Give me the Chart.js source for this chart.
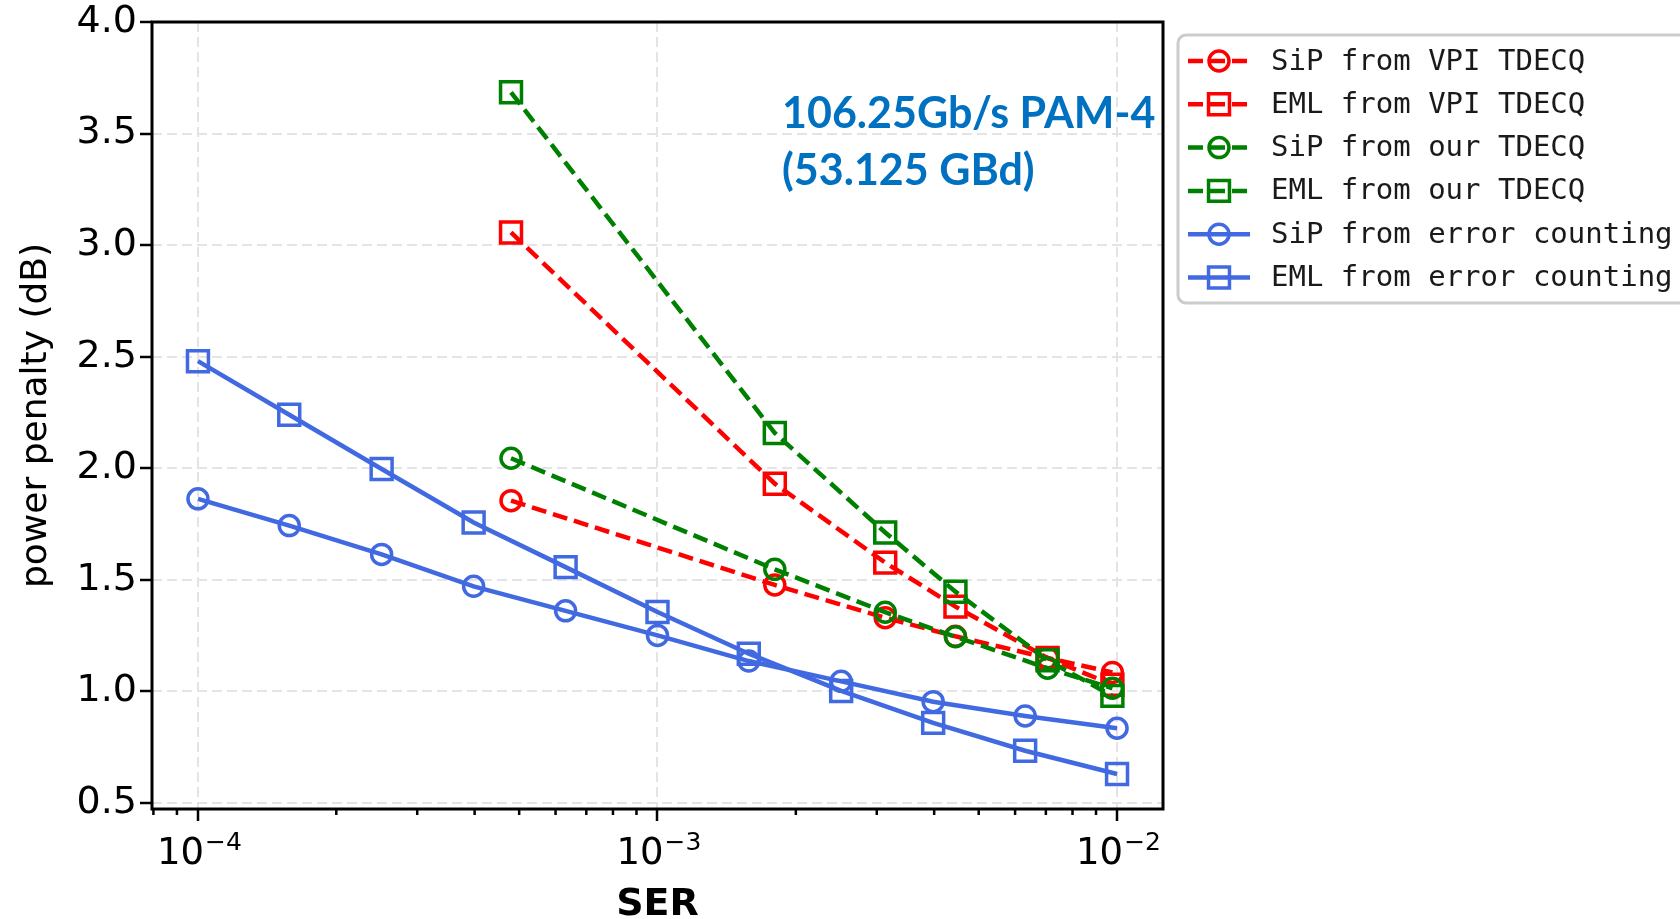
<!DOCTYPE html>
<html>
<head>
<meta charset="utf-8">
<title>Power penalty vs SER</title>
<script src="https://cdn.jsdelivr.net/npm/chart.js@4.4.1/dist/chart.umd.min.js"></script>
<style>
  html, body { margin: 0; padding: 0; background: #ffffff; overflow: hidden; }
  canvas { display: block; }
</style>
</head>
<body>
<canvas id="chart" width="1680" height="919"></canvas>
<script>
// SER points of the error-counting sweeps
const serCounting = [1.0e-4, 1.58e-4, 2.51e-4, 3.98e-4, 6.31e-4, 1.0e-3, 1.58e-3, 2.51e-3, 3.98e-3, 6.31e-3, 1.0e-2];
const sipCounting = [1.863, 1.743, 1.614, 1.471, 1.361, 1.251, 1.136, 1.045, 0.954, 0.890, 0.835];
const emlCounting = [2.480, 2.240, 1.997, 1.757, 1.557, 1.356, 1.169, 1.002, 0.859, 0.734, 0.630];

// SER points of the TDECQ estimates
const serTdecq = [4.8e-4, 1.8e-3, 3.13e-3, 4.45e-3, 7.06e-3, 9.77e-3];
const sipVpi = [1.855, 1.477, 1.330, 1.247, 1.150, 1.085];
const emlVpi = [3.057, 1.931, 1.577, 1.380, 1.150, 1.030];
const sipOur = [2.045, 1.547, 1.355, 1.245, 1.104, 1.014];
const emlOur = [3.685, 2.158, 1.712, 1.447, 1.140, 0.980];

const seriesLabels = [
  'SiP from VPI TDECQ',
  'EML from VPI TDECQ',
  'SiP from our TDECQ',
  'EML from our TDECQ',
  'SiP from error counting',
  'EML from error counting'
];

const yTickValues = [0.5, 1.0, 1.5, 2.0, 2.5, 3.0, 3.5, 4.0];
const xDecades = [1e-4, 1e-3, 1e-2];
const xDecadeBase = '10';
const xDecadeExponents = ['\u22124', '\u22123', '\u22122'];

const annotationLines = ['106.25Gb/s PAM-4', '(53.125 GBd)'];

// log-axis tick positions: decades plus the 2..9 minor ticks inside the range
const xMin = Math.pow(10, -4.1);
const xMax = Math.pow(10, -1.9);
const xTickValues = [];
for (let e = -5; e <= -2; e++) {
  for (let m = 1; m <= 9; m++) {
    const v = m * Math.pow(10, e);
    if (v >= xMin * 0.999 && v <= xMax * 1.001) xTickValues.push(v);
  }
}
const decadeIndex = v => xDecades.findIndex(d => Math.abs(v / d - 1) < 1e-6);
const isDecade = v => decadeIndex(v) >= 0;

const RED = '#ff0000', GREEN = '#008000', BLUE = '#4169e1';
const DASH = [15, 7];

function series(label, xs, ys, color, dashed, style, order) {
  const r = style === 'rect' ? 14.8 : 10;
  return {
    label: label,
    data: xs.map((x, i) => ({ x: x, y: ys[i] })),
    borderColor: color,
    borderWidth: 4.5,
    borderDash: dashed ? DASH : [],
    pointStyle: style,
    pointRadius: r,
    pointHoverRadius: r,
    pointBorderWidth: 3.5,
    pointBorderColor: color,
    pointBackgroundColor: 'rgba(0,0,0,0)',
    fill: false,
    tension: 0,
    order: order
  };
}

const datasets = [
  series(seriesLabels[0], serTdecq, sipVpi, RED, true, 'circle', 6),
  series(seriesLabels[1], serTdecq, emlVpi, RED, true, 'rect', 5),
  series(seriesLabels[2], serTdecq, sipOur, GREEN, true, 'circle', 4),
  series(seriesLabels[3], serTdecq, emlOur, GREEN, true, 'rect', 3),
  series(seriesLabels[4], serCounting, sipCounting, BLUE, false, 'circle', 2),
  series(seriesLabels[5], serCounting, emlCounting, BLUE, false, 'rect', 1)
];

// black box around the plot area, short minor ticks and the 10^n labels of the log axis
const framePlugin = {
  id: 'frame',
  afterDatasetsDraw(chart) {
    const { ctx, chartArea: a, scales } = chart;
    const xs = scales.x;
    ctx.save();
    ctx.strokeStyle = '#000';
    ctx.lineWidth = 2.5;
    ctx.beginPath();
    xTickValues.filter(v => !isDecade(v)).forEach(v => {
      const px = xs.getPixelForValue(v);
      ctx.moveTo(px, a.bottom);
      ctx.lineTo(px, a.bottom + 6);
    });
    ctx.stroke();
    ctx.lineWidth = 3;
    ctx.strokeRect(a.left, a.top, a.right - a.left, a.bottom - a.top);

    // decade labels with a raised exponent
    ctx.fillStyle = '#000';
    ctx.textBaseline = 'alphabetic';
    ctx.textAlign = 'left';
    const baseFont = '37px "DejaVu Sans"';
    const expFont = '25px "DejaVu Sans"';
    const baseY = a.bottom + 55;
    xDecades.forEach((d, i) => {
      const px = xs.getPixelForValue(d);
      ctx.font = baseFont;
      const wb = ctx.measureText(xDecadeBase).width;
      ctx.font = expFont;
      const we = ctx.measureText(xDecadeExponents[i]).width;
      const x0 = px - (wb + we) / 2 + 1;
      ctx.font = baseFont;
      ctx.fillText(xDecadeBase, x0, baseY);
      ctx.font = expFont;
      ctx.fillText(xDecadeExponents[i], x0 + wb + 1, baseY - 14);
    });
    ctx.restore();
  }
};

// rate / baud annotation in the upper right of the plot
const annotationPlugin = {
  id: 'rateNote',
  afterDraw(chart) {
    const { ctx, chartArea: a } = chart;
    ctx.save();
    ctx.fillStyle = '#0070c0';
    ctx.font = 'bold 43px Lato, "Open Sans", sans-serif';
    ctx.textAlign = 'left';
    ctx.textBaseline = 'alphabetic';
    const x0 = a.right - 381;
    ctx.fillText(annotationLines[0], x0, a.top + 106);
    ctx.fillText(annotationLines[1], x0, a.top + 163);
    ctx.restore();
  }
};

// legend box to the right of the plot: line + marker + monospace label
const legendPlugin = {
  id: 'sideLegend',
  afterDraw(chart) {
    const { ctx, chartArea: a } = chart;
    const bx = a.right + 15, by = 35, bw = 600, bh = 268;
    ctx.save();
    ctx.fillStyle = '#ffffff';
    ctx.strokeStyle = '#cccccc';
    ctx.lineWidth = 3;
    ctx.beginPath();
    ctx.roundRect(bx, by, bw, bh, 8);
    ctx.fill();
    ctx.stroke();

    chart.data.datasets.forEach((ds, i) => {
      const y = 61 + i * 43.3;
      const x1 = bx + 10, x2 = bx + 72, xm = bx + 41;
      ctx.strokeStyle = ds.borderColor;
      ctx.lineWidth = ds.borderWidth;
      ctx.setLineDash(ds.borderDash);
      ctx.beginPath();
      ctx.moveTo(x1, y);
      ctx.lineTo(x2, y);
      ctx.stroke();
      ctx.setLineDash([]);
      ctx.lineWidth = ds.pointBorderWidth;
      ctx.fillStyle = 'rgba(0,0,0,0)';
      Chart.helpers.drawPoint(ctx, {
        pointStyle: ds.pointStyle,
        radius: ds.pointRadius,
        borderWidth: ds.pointBorderWidth,
        rotation: 0
      }, xm, y);
      ctx.fillStyle = '#1a1a1a';
      ctx.font = '29px "DejaVu Sans Mono", monospace';
      ctx.textAlign = 'left';
      ctx.textBaseline = 'middle';
      ctx.fillText(ds.label, bx + 93, y + 1);
    });
    ctx.restore();
  }
};

new Chart(document.getElementById('chart'), {
  type: 'line',
  data: { datasets: datasets },
  plugins: [framePlugin, annotationPlugin, legendPlugin],
  options: {
    responsive: false,
    animation: false,
    devicePixelRatio: 1,
    layout: { padding: { top: 21, right: 517, left: 0, bottom: 0 } },
    plugins: {
      legend: { display: false },
      tooltip: { enabled: false }
    },
    scales: {
      x: {
        type: 'logarithmic',
        position: 'bottom',
        min: xMin,
        max: xMax,
        afterBuildTicks(scale) {
          scale.ticks = xTickValues.map(v => ({ value: v, major: isDecade(v) }));
        },
        afterFit(scale) { scale.height = 110; },
        ticks: {
          autoSkip: false,
          maxRotation: 0,
          minRotation: 0,
          padding: 4,
          color: '#000',
          font: { family: 'DejaVu Sans', size: 37, lineHeight: 1.0 },
          callback: () => ''
        },
        grid: {
          color: ctx => (ctx.tick && isDecade(ctx.tick.value)) ? '#e4e4e4' : 'rgba(0,0,0,0)',
          lineWidth: 2,
          tickColor: ctx => (ctx.tick && isDecade(ctx.tick.value)) ? '#000' : 'rgba(0,0,0,0)',
          tickWidth: 2.5,
          tickLength: 12
        },
        border: { display: false, dash: [10, 5] },
        title: {
          display: true,
          text: 'SER',
          color: '#000',
          font: { family: 'DejaVu Sans', size: 38, weight: 'bold', lineHeight: 0.72 },
          padding: { top: 0, bottom: 0 }
        }
      },
      y: {
        type: 'linear',
        position: 'left',
        min: 0.473,
        max: 4.0,
        afterBuildTicks(scale) {
          scale.ticks = yTickValues.map(v => ({ value: v }));
        },
        afterFit(scale) { scale.width = 152; },
        ticks: {
          padding: 3,
          color: '#000',
          font: { family: 'DejaVu Sans', size: 38, lineHeight: 1.0 },
          callback: v => Number(v).toFixed(1)
        },
        grid: {
          color: '#e4e4e4',
          lineWidth: 2,
          tickColor: '#000',
          tickWidth: 2.5,
          tickLength: 12
        },
        border: { display: false, dash: [10, 5] },
        title: {
          display: true,
          text: 'power penalty (dB)',
          color: '#000',
          font: { family: 'DejaVu Sans', size: 36, lineHeight: 1.2 },
          padding: { top: 15, bottom: 0 }
        }
      }
    }
  }
});
</script>
</body>
</html>
